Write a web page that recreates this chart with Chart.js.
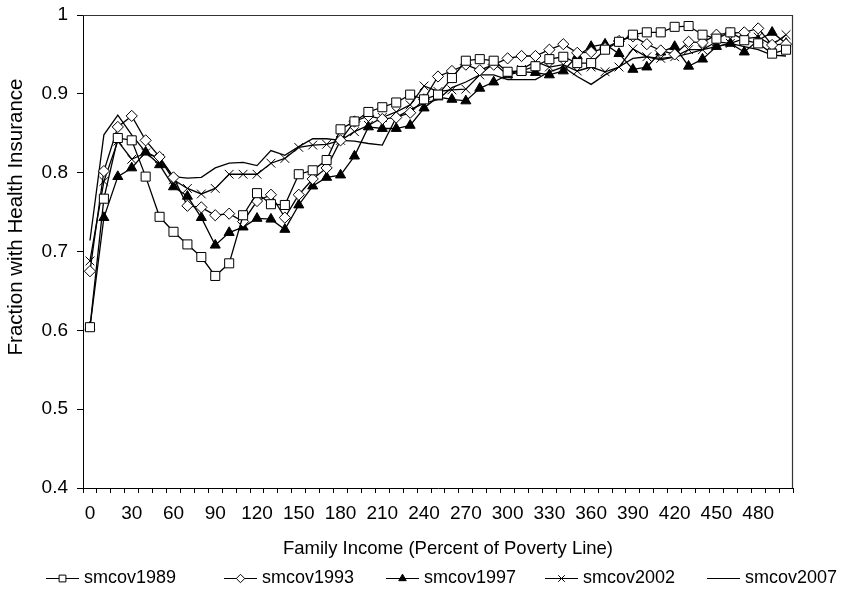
<!DOCTYPE html>
<html>
<head>
<meta charset="utf-8">
<script src="https://cdn.jsdelivr.net/npm/chart.js@4.4.0/dist/chart.umd.min.js"></script>
<style>
  html, body { margin: 0; padding: 0; background: #fff; }
  #wrap { width: 842px; height: 595px; }
</style>
</head>
<body>
<div id="wrap"><canvas id="chart" width="842" height="595"></canvas></div>
<script>
// Income levels (percent of poverty line), one per category
const incomeLevels = [0, 10, 20, 30, 40, 50, 60, 70, 80, 90, 100, 110, 120, 130, 140, 150, 160, 170, 180, 190,
  200, 210, 220, 230, 240, 250, 260, 270, 280, 290, 300, 310, 320, 330, 340, 350, 360, 370, 380, 390,
  400, 410, 420, 430, 440, 450, 460, 470, 480, 490, 500];
const xTickLabels = ['0', '30', '60', '90', '120', '150', '180', '210', '240', '270', '300', '330', '360',
  '390', '420', '450', '480'];
const yTickLabels = ['0.4', '0.5', '0.6', '0.7', '0.8', '0.9', '1'];

const smcov1989 = [0.604, 0.767, 0.844, 0.841, 0.795, 0.744, 0.725, 0.709, 0.693, 0.669, 0.685, 0.746, 0.774,
  0.760, 0.759, 0.798, 0.803, 0.816, 0.855, 0.865, 0.877, 0.883, 0.889, 0.899, 0.893, 0.899, 0.920, 0.942,
  0.944, 0.942, 0.928, 0.929, 0.935, 0.944, 0.947, 0.939, 0.939, 0.956, 0.966, 0.975, 0.978, 0.978, 0.985,
  0.986, 0.975, 0.970, 0.978, 0.968, 0.964, 0.951, 0.956];
const smcov1993 = [0.675, 0.802, 0.858, 0.872, 0.841, 0.820, 0.794, 0.758, 0.756, 0.746, 0.748, 0.738, 0.764,
  0.772, 0.743, 0.772, 0.792, 0.806, 0.841, 0.865, 0.872, 0.868, 0.870, 0.876, 0.893, 0.922, 0.929, 0.937,
  0.930, 0.937, 0.945, 0.948, 0.948, 0.956, 0.963, 0.952, 0.953, 0.958, 0.967, 0.973, 0.963, 0.955, 0.950,
  0.966, 0.965, 0.975, 0.977, 0.978, 0.983, 0.962, 0.963];
const smcov1997 = [0.604, 0.743, 0.795, 0.806, 0.826, 0.810, 0.782, 0.770, 0.743, 0.708, 0.724, 0.731, 0.742,
  0.741, 0.728, 0.759, 0.783, 0.794, 0.797, 0.821, 0.858, 0.856, 0.856, 0.860, 0.882, 0.896, 0.893, 0.891,
  0.907, 0.915, 0.924, 0.928, 0.927, 0.924, 0.929, 0.948, 0.960, 0.963, 0.951, 0.931, 0.934, 0.953, 0.960,
  0.935, 0.944, 0.960, 0.964, 0.953, 0.968, 0.978, 0.964];
const smcov2002 = [0.688, 0.789, 0.840, 0.817, 0.825, 0.818, 0.791, 0.780, 0.773, 0.780, 0.798, 0.798, 0.798,
  0.812, 0.818, 0.832, 0.835, 0.836, 0.841, 0.852, 0.860, 0.870, 0.877, 0.886, 0.910, 0.903, 0.905, 0.906,
  0.924, 0.939, 0.924, 0.931, 0.941, 0.934, 0.937, 0.929, 0.934, 0.928, 0.934, 0.957, 0.947, 0.945, 0.947,
  0.956, 0.956, 0.966, 0.964, 0.970, 0.972, 0.962, 0.975];
const smcov2007 = [0.714, 0.848, 0.873, 0.848, 0.826, 0.818, 0.795, 0.793, 0.794, 0.806, 0.812, 0.813, 0.809,
  0.828, 0.822, 0.833, 0.843, 0.843, 0.841, 0.840, 0.837, 0.835, 0.870, 0.880, 0.888, 0.893, 0.908, 0.915,
  0.924, 0.924, 0.918, 0.918, 0.918, 0.928, 0.934, 0.922, 0.912, 0.924, 0.934, 0.945, 0.947, 0.943, 0.947,
  0.951, 0.956, 0.960, 0.964, 0.960, 0.956, 0.949, 0.948];

const FONT = '"Liberation Sans", Arial, sans-serif';

// marker style per series; legendX = where the legend text starts
const series = [
  { label: 'smcov1989', data: smcov1989, pointStyle: 'rect', radius: 6.4, fill: '#fff', legendX: 84 },
  { label: 'smcov1993', data: smcov1993, pointStyle: 'rectRot', radius: 5.6, fill: '#fff', legendX: 262 },
  { label: 'smcov1997', data: smcov1997, pointStyle: 'triangle', radius: 5.8, fill: '#000', legendX: 424 },
  { label: 'smcov2002', data: smcov2002, pointStyle: 'crossRot', radius: 6.2, fill: '#000', legendX: 583 },
  { label: 'smcov2007', data: smcov2007, pointStyle: false, radius: 0, fill: '#000', legendX: 745 }
];

// tick labels, titles, frame and legend
const decorations = {
  id: 'decorations',
  afterDraw(chart) {
    const ctx = chart.ctx;
    const a = chart.chartArea;
    const xs = chart.scales.x;
    const ys = chart.scales.y;
    ctx.save();

    // box on top and right side of the plot
    ctx.strokeStyle = '#333';
    ctx.lineWidth = 1.2;
    ctx.beginPath();
    ctx.moveTo(a.left, a.top + 0.5);
    ctx.lineTo(a.right - 0.5, a.top + 0.5);
    ctx.lineTo(a.right - 0.5, a.bottom);
    ctx.stroke();

    ctx.fillStyle = '#000';
    ctx.textBaseline = 'middle';

    // y tick labels
    ctx.font = '19px ' + FONT;
    ctx.textAlign = 'right';
    yTickLabels.forEach(t => {
      ctx.fillText(t, 68, ys.getPixelForValue(parseFloat(t)));
    });

    // x tick labels
    ctx.textAlign = 'center';
    incomeLevels.forEach((v, i) => {
      if (xTickLabels.includes(String(v))) {
        ctx.fillText(String(v), xs.getPixelForValue(i), 514);
      }
    });

    // axis titles
    ctx.font = '18.5px ' + FONT;
    ctx.fillText('Family Income (Percent of Poverty Line)', 448, 549);
    ctx.save();
    ctx.translate(16, 217);
    ctx.rotate(-Math.PI / 2);
    ctx.font = '20.5px ' + FONT;
    ctx.fillText('Fraction with Health Insurance', 0, 0);
    ctx.restore();

    // legend
    ctx.font = '18px ' + FONT;
    ctx.textAlign = 'left';
    const ly = 578;
    series.forEach(s => {
      const x1 = s.legendX - 5;
      const x0 = x1 - 33;
      ctx.strokeStyle = '#000';
      ctx.lineWidth = 1.2;
      ctx.beginPath();
      ctx.moveTo(x0, ly + 0.5);
      ctx.lineTo(x1, ly + 0.5);
      ctx.stroke();
      if (s.pointStyle) {
        ctx.fillStyle = s.fill;
        ctx.lineWidth = 1;
        Chart.helpers.drawPoint(ctx, { pointStyle: s.pointStyle, radius: s.radius * 0.75, borderWidth: 1, rotation: 0 },
          (x0 + x1) / 2, ly + 0.5);
      }
      ctx.fillStyle = '#000';
      ctx.fillText(s.label, s.legendX, ly);
    });
    ctx.restore();
  }
};

new Chart(document.getElementById('chart'), {
  type: 'line',
  data: {
    labels: incomeLevels.map(String),
    datasets: series.map(s => ({
      label: s.label,
      data: s.data,
      borderColor: '#000',
      borderWidth: 1.3,
      tension: 0,
      pointStyle: s.pointStyle,
      pointRadius: s.radius,
      pointHoverRadius: s.radius,
      pointBackgroundColor: s.fill,
      pointBorderColor: '#000',
      pointBorderWidth: 1
    }))
  },
  options: {
    responsive: false,
    animation: false,
    devicePixelRatio: 1,
    layout: { padding: { top: 15, right: 49, left: 0, bottom: 0 } },
    plugins: { legend: { display: false }, tooltip: { enabled: false } },
    scales: {
      x: {
        type: 'category',
        offset: true,
        afterFit: scale => { scale.height = 107; },
        grid: { drawOnChartArea: false, drawTicks: true, tickLength: 5, color: '#000', offset: true },
        border: { display: true, color: '#000', width: 1 },
        ticks: { display: false, autoSkip: false }
      },
      y: {
        min: 0.4,
        max: 1,
        afterFit: scale => { scale.width = 83; },
        grid: { drawOnChartArea: false, drawTicks: true, tickLength: 6, color: '#000' },
        border: { display: true, color: '#000', width: 1 },
        ticks: { display: false, stepSize: 0.1 }
      }
    }
  },
  plugins: [decorations]
});
</script>
</body>
</html>
